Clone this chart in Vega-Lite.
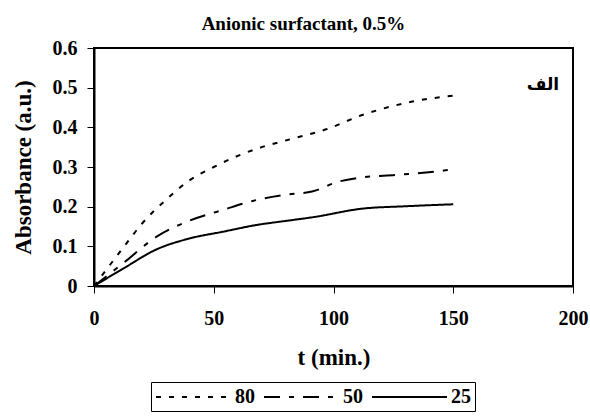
{
  "$schema": "https://vega.github.io/schema/vega-lite/v6.json",
  "width": 479,
  "height": 238,
  "autosize": "none",
  "padding": {"left": 94, "top": 48, "right": 17, "bottom": 130},
  "background": "white",
  "title": {
    "text": "Anionic surfactant, 0.5%",
    "font": "Liberation Serif",
    "fontSize": 19,
    "fontWeight": "bold",
    "color": "black",
    "anchor": "middle",
    "dx": -30,
    "offset": 4
  },
  "config": {
    "view": {"stroke": "black", "strokeWidth": 2},
    "axis": {
      "grid": false,
      "domainColor": "black",
      "domainWidth": 2,
      "tickColor": "black",
      "tickWidth": 1,
      "tickSize": 7,
      "labelOverlap": false,
      "labelFlush": false,
      "labelFont": "Liberation Serif",
      "labelFontSize": 20,
      "labelFontWeight": "bold",
      "labelColor": "black",
      "titleFont": "Liberation Serif",
      "titleFontSize": 23,
      "titleFontWeight": "bold",
      "titleColor": "black"
    }
  },
  "datasets": {
    "curves": [
      {"t": 0, "a": 0, "temp": "80"},
      {"t": 5, "a": 0.04, "temp": "80"},
      {"t": 12.5, "a": 0.099, "temp": "80"},
      {"t": 20, "a": 0.157, "temp": "80"},
      {"t": 30, "a": 0.217, "temp": "80"},
      {"t": 40, "a": 0.267, "temp": "80"},
      {"t": 50, "a": 0.3, "temp": "80"},
      {"t": 60, "a": 0.328, "temp": "80"},
      {"t": 70, "a": 0.35, "temp": "80"},
      {"t": 82, "a": 0.37, "temp": "80"},
      {"t": 97, "a": 0.395, "temp": "80"},
      {"t": 112, "a": 0.431, "temp": "80"},
      {"t": 120, "a": 0.446, "temp": "80"},
      {"t": 133, "a": 0.465, "temp": "80"},
      {"t": 150, "a": 0.48, "temp": "80"},
      {"t": 0, "a": 0, "temp": "50"},
      {"t": 12.5, "a": 0.059, "temp": "50"},
      {"t": 26, "a": 0.124, "temp": "50"},
      {"t": 40, "a": 0.165, "temp": "50"},
      {"t": 54, "a": 0.192, "temp": "50"},
      {"t": 68, "a": 0.217, "temp": "50"},
      {"t": 80, "a": 0.23, "temp": "50"},
      {"t": 91, "a": 0.238, "temp": "50"},
      {"t": 102, "a": 0.263, "temp": "50"},
      {"t": 112, "a": 0.274, "temp": "50"},
      {"t": 126, "a": 0.28, "temp": "50"},
      {"t": 146, "a": 0.291, "temp": "50"},
      {"t": 150, "a": 0.294, "temp": "50"},
      {"t": 0, "a": 0, "temp": "25"},
      {"t": 12.5, "a": 0.045, "temp": "25"},
      {"t": 26, "a": 0.092, "temp": "25"},
      {"t": 40, "a": 0.12, "temp": "25"},
      {"t": 54, "a": 0.137, "temp": "25"},
      {"t": 68, "a": 0.154, "temp": "25"},
      {"t": 80, "a": 0.164, "temp": "25"},
      {"t": 92, "a": 0.174, "temp": "25"},
      {"t": 112, "a": 0.195, "temp": "25"},
      {"t": 130, "a": 0.201, "temp": "25"},
      {"t": 150, "a": 0.206, "temp": "25"}
    ],
    "tag": [{"t": 194.2, "a": 0.507, "label": "الف"}]
  },
  "encoding": {
    "x": {
      "field": "t",
      "type": "quantitative",
      "scale": {"domain": [0, 200], "nice": false},
      "axis": {"title": "t (min.)", "values": [0, 50, 100, 150, 200], "labelPadding": 15, "titlePadding": 18}
    },
    "y": {
      "field": "a",
      "type": "quantitative",
      "scale": {"domain": [0, 0.6], "nice": false},
      "axis": {
        "title": "Absorbance (a.u.)",
        "values": [0, 0.1, 0.2, 0.3, 0.4, 0.5, 0.6],
        "format": ".1~f",
        "labelPadding": 10,
        "titlePadding": 17
      }
    }
  },
  "layer": [
    {
      "data": {"name": "curves"},
      "mark": {"type": "line", "interpolate": "monotone", "strokeWidth": 2, "color": "black"},
      "encoding": {
        "strokeDash": {
          "field": "temp",
          "type": "nominal",
          "sort": ["80", "50", "25"],
          "scale": {"domain": ["80", "50", "25"], "range": [[5, 8], [16, 9, 5, 9], [1, 0]]},
          "legend": {
            "title": null,
            "orient": "none",
            "legendX": 57,
            "legendY": 334,
            "direction": "horizontal",
            "strokeColor": "black",
            "padding": 4,
            "symbolType": "M-1,0H6.5",
            "symbolSize": 400,
            "symbolStrokeWidth": 2,
            "symbolStrokeColor": "black",
            "symbolFillColor": "transparent",
            "labelFont": "Liberation Serif",
            "labelFontSize": 20,
            "labelFontWeight": "bold",
            "labelColor": "black",
            "labelOffset": 58,
            "columnPadding": 5
          }
        }
      }
    },
    {
      "data": {"name": "tag"},
      "mark": {"type": "text", "align": "right", "baseline": "middle", "font": "DejaVu Sans", "fontSize": 17, "fontWeight": "bold", "color": "black"},
      "encoding": {
        "text": {"field": "label"}
      }
    }
  ]
}
